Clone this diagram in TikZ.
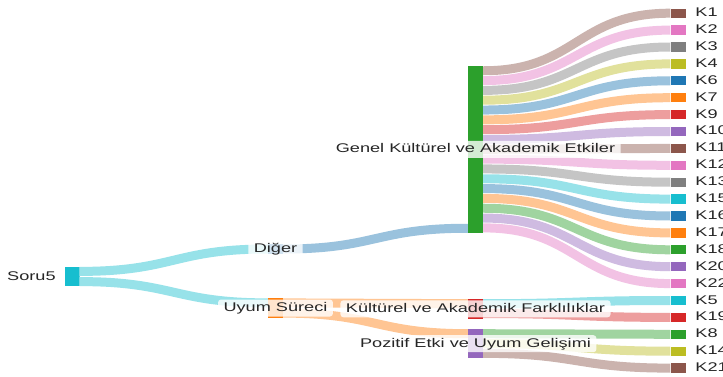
\documentclass[tikz,border=0pt]{standalone}
\usepackage{fontspec}
\setmainfont{Liberation Sans}[FakeStretch=1.44]
\usetikzlibrary{calc}
\definecolor{cbrown}{HTML}{8C564B}
\definecolor{cpink}{HTML}{E377C2}
\definecolor{cgray}{HTML}{7F7F7F}
\definecolor{colive}{HTML}{BCBD22}
\definecolor{cblue}{HTML}{1F77B4}
\definecolor{corange}{HTML}{FF7F0E}
\definecolor{cred}{HTML}{D62728}
\definecolor{cpurple}{HTML}{9467BD}
\definecolor{ccyan}{HTML}{17BECF}
\definecolor{cgreen}{HTML}{2CA02C}
\begin{document}
\begin{tikzpicture}[x=1pt, y=-1pt, font=\fontsize{12.6}{15}\selectfont,
    bar/.style={rectangle, draw=none, inner sep=0pt, minimum width=15pt},
    flow/.style={draw=#1!45!white, line width=9pt, preaction={draw=white, line width=9.8pt}},
    lbl/.style={fill=white, fill opacity=0.8, text opacity=1, text=black!85, rounded corners=3pt,
                inner xsep=5.5pt, inner ysep=2.5pt, text height=9.5pt, text depth=2.5pt}]
    \useasboundingbox (0,0) rectangle (723,377);

    % stages
    \node[bar, fill=ccyan, minimum height=19.6pt] (soru) at (72,276.5) {};
    \node[bar, fill=cblue, minimum height=9.8pt] (diger) at (275.5,249) {};
    \node[bar, fill=corange, minimum height=19.6pt] (uyum) at (275.5,308) {};
    \node[bar, fill=cgreen, minimum height=166.9pt] (genel) at (475.5,149.5) {};
    \node[bar, fill=cred, minimum height=19.6pt] (fark) at (475.5,308.8) {};
    \node[bar, fill=cpurple, minimum height=29.4pt] (pozitif) at (475.5,343.7) {};

    % codes
    \foreach \k/\c [count=\j from 0] in {K1/cbrown,K2/cpink,K3/cgray,K4/colive,K6/cblue,K7/corange,
        K9/cred,K10/cpurple,K11/cbrown,K12/cpink,K13/cgray,K15/ccyan,K16/cblue,K17/corange,K18/cgreen,
        K20/cpurple,K22/cpink,K5/ccyan,K19/cred,K8/cgreen,K14/colive,K21/cbrown}
    {
        \node[bar, fill=\c, minimum height=9.3pt] (\k) at (678,13.2+16.9*\j) {};
        \node[lbl, anchor=west, xshift=4pt] (\k text) at (\k.east) {\k};
    }

    % flows
    \draw[flow=ccyan] ($(soru.north east)+(0,4.9)$) .. controls +(94,0) and +(-94,0) .. (diger.west);
    \draw[flow=ccyan] ($(soru.south east)+(0,-4.9)$) .. controls +(94,0) and +(-94,0) .. ($(uyum.north west)+(0,4.9)$);
    \draw[flow=cblue] (diger.east) .. controls +(92.5,0) and +(-92.5,0) .. ($(genel.south west)+(0,-4.9)$);
    \draw[flow=corange] ($(uyum.north east)+(0,4.9)$) .. controls +(92.5,0) and +(-92.5,0) .. ($(fark.north west)+(0,4.9)$);
    \draw[flow=corange] ($(uyum.south east)+(0,-4.9)$) .. controls +(92.5,0) and +(-92.5,0) .. ($(pozitif.north west)+(0,4.9)$);

    \foreach \k/\c [count=\i from 0] in {K1/cbrown,K2/cpink,K3/cgray,K4/colive,K6/cblue,K7/corange,
        K9/cred,K10/cpurple,K11/cbrown,K12/cpink,K13/cgray,K15/ccyan,K16/cblue,K17/corange,K18/cgreen,
        K20/cpurple,K22/cpink}
    \draw[flow=\c] ($(genel.north east)+(0,4.91+9.82*\i)$) .. controls +(94,0) and +(-94,0) .. (\k.west);

    \foreach \k/\c/\s/\n in {K5/ccyan/fark/0, K19/cred/fark/1, K8/cgreen/pozitif/0, K14/colive/pozitif/1, K21/cbrown/pozitif/2}
    \draw[flow=\c] ($(\s.north east)+(0,4.91+9.82*\n)$) .. controls +(94,0) and +(-94,0) .. (\k.west);

    % labels
    \node[lbl, anchor=east, xshift=-3pt] (soru text) at (soru.west) {Soru5};
    \node[lbl] (diger text) at (diger) {Diğer};
    \node[lbl] (uyum text) at (uyum) {Uyum Süreci};
    \node[lbl] (genel text) at (genel) {Genel Kültürel ve Akademik Etkiler};
    \node[lbl] (fark text) at (fark) {Kültürel ve Akademik Farklılıklar};
    \node[lbl] (pozitif text) at (pozitif) {Pozitif Etki ve Uyum Gelişimi};
\end{tikzpicture}
\end{document}
